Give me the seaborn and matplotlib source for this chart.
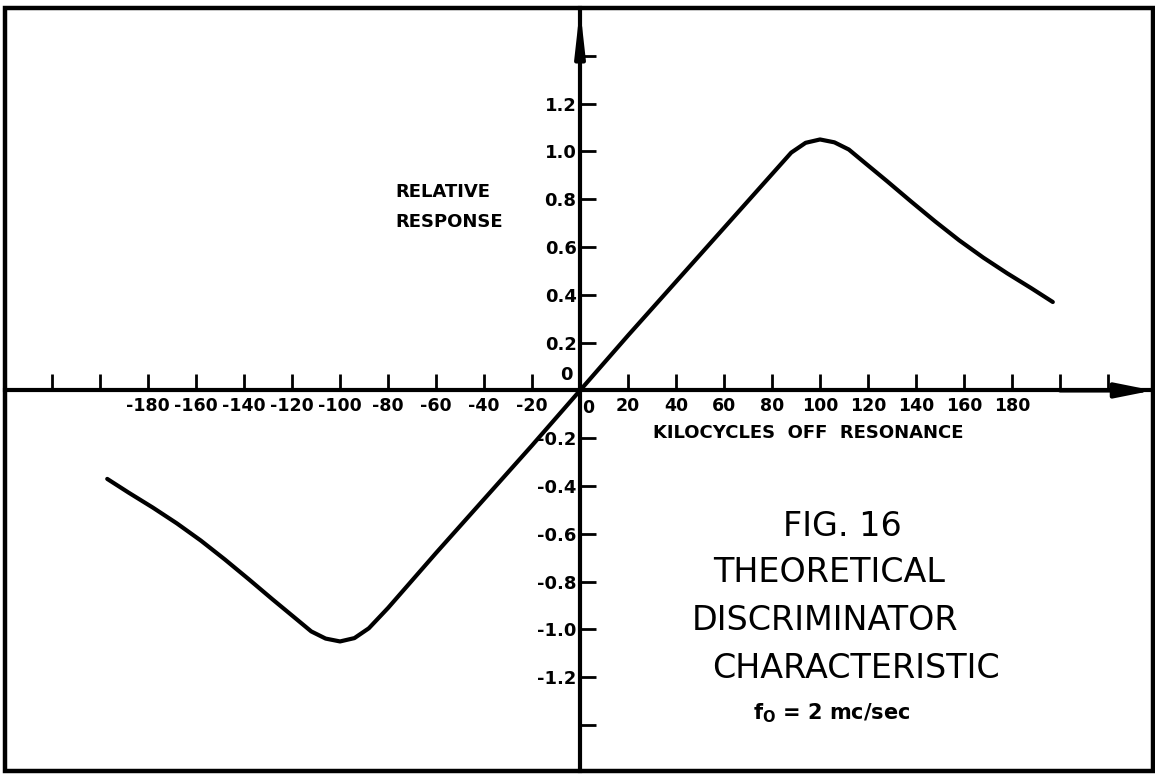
import pandas as pd
import seaborn as sns
import matplotlib.pyplot as plt
from matplotlib.patches import Rectangle

# curva: kilociclos fuera de resonancia vs respuesta relativa
kc = [-197, -188, -178, -168, -158, -148, -138, -128, -118, -112, -106, -100, -94, -88, -80,
      -60, -40, -20, 0, 20, 40, 60, 80, 88, 94, 100, 106, 112, 118, 128, 138, 148, 158,
      168, 178, 188, 197]
respuesta = [-0.37, -0.428, -0.49, -0.556, -0.628, -0.707, -0.79, -0.875, -0.958, -1.008,
             -1.038, -1.05, -1.036, -0.995, -0.91, -0.68, -0.455, -0.23, 0.0, 0.23, 0.455,
             0.68, 0.905, 0.995, 1.036, 1.05, 1.038, 1.008, 0.958, 0.875, 0.79, 0.707, 0.628,
             0.556, 0.49, 0.428, 0.37]

x_ticks = [-220, -200, -180, -160, -140, -120, -100, -80, -60, -40, -20,
           20, 40, 60, 80, 100, 120, 140, 160, 180, 200, 220]
x_labels = ["", "", "-180", "-160", "-140", "-120", "-100", "-80", "-60", "-40", "-20",
            "20", "40", "60", "80", "100", "120", "140", "160", "180", "", ""]
y_ticks = [-1.4, -1.2, -1.0, -0.8, -0.6, -0.4, -0.2, 0.2, 0.4, 0.6, 0.8, 1.0, 1.2, 1.4]
y_labels = ["", "-1.2", "-1.0", "-0.8", "-0.6", "-0.4", "-0.2",
            "0.2", "0.4", "0.6", "0.8", "1.0", "1.2", ""]

titulo = ["FIG. 16", "THEORETICAL", "DISCRIMINATOR", "CHARACTERISTIC"]

W, H = 1155, 775

sns.set_theme(style="white")
plt.rcParams['font.family'] = ['DejaVu Sans']
plt.rcParams['text.color'] = 'black'

df = pd.DataFrame({"kc": kc, "respuesta": respuesta})

fig = plt.figure(figsize=(W / 100, H / 100), dpi=100)
# el marco va de (5, 8) a (1153, 771) px
ax = fig.add_axes([5 / W, 4 / H, 1148 / W, 763 / H])

sns.lineplot(data=df, x="kc", y="respuesta", ax=ax, color="black", linewidth=3,
             estimator=None, sort=False, solid_capstyle="round")

ax.set_xlim(-239.6, 238.75)
ax.set_ylim(-1.592, 1.600)
ax.set_xlabel("")
ax.set_ylabel("")

for lado in ["top", "right"]:
    ax.spines[lado].set_visible(False)
for lado in ["left", "bottom"]:
    ax.spines[lado].set_position(("data", 0))
    ax.spines[lado].set_color("black")
    ax.spines[lado].set_linewidth(3)

ax.set_xticks(x_ticks)
ax.set_xticklabels(x_labels, fontweight="bold")
ax.set_yticks(y_ticks)
ax.set_yticklabels(y_labels, fontweight="bold")
ax.tick_params(axis="x", direction="in", length=11.5, width=2, pad=5, labelsize=12.5,
               colors="black", bottom=True)
ax.tick_params(axis="y", direction="in", length=11.5, width=2, pad=2.5, labelsize=13,
               colors="black", left=True)

# los ceros junto al origen
ax.annotate("0", xy=(0, 0), xytext=(-9.5, 11), textcoords="offset points",
            ha="center", va="center", fontsize=13, fontweight="bold")
ax.annotate("0", xy=(0, 0), xytext=(6, -12.5), textcoords="offset points",
            ha="center", va="center", fontsize=12.5, fontweight="bold")

# flechas de los ejes
ax.annotate("", xy=(0, 1.600), xytext=(0, 1.40), annotation_clip=False,
            arrowprops=dict(arrowstyle="-|>,head_length=1.25,head_width=0.14",
                            mutation_scale=20, color="black", lw=3, shrinkA=0, shrinkB=0))
ax.annotate("", xy=(238.75, 0), xytext=(200, 0), annotation_clip=False,
            arrowprops=dict(arrowstyle="-|>,head_length=1.1,head_width=0.22",
                            mutation_scale=20, color="black", lw=3, shrinkA=0, shrinkB=0))

# marco
ax.add_patch(Rectangle((0, 0), 1, 1, transform=ax.transAxes, fill=False,
                       edgecolor="black", linewidth=3.2, clip_on=False))

fig.text(395 / W, 1 - 192 / H, "RELATIVE", fontsize=13, fontweight="bold", va="center",
         color="black")
fig.text(395 / W, 1 - 222 / H, "RESPONSE", fontsize=13, fontweight="bold", va="center",
         color="black")
fig.text(808 / W, 1 - 433 / H, "KILOCYCLES  OFF  RESONANCE", fontsize=13,
         fontweight="bold", ha="center", va="center", color="black")

pos_titulo = [(842, 527), (829, 573), (825, 620), (856, 668)]
for texto, (px, py) in zip(titulo, pos_titulo):
    fig.text(px / W, 1 - py / H, texto, fontsize=24, ha="center", va="center",
             color="black")
fig.text(832 / W, 1 - 713 / H, r"f$_\mathbf{O}$ = 2 mc/sec", fontsize=15,
         fontweight="bold", ha="center", va="center", color="black")

fig.savefig("out.png", dpi=100, facecolor="white")
